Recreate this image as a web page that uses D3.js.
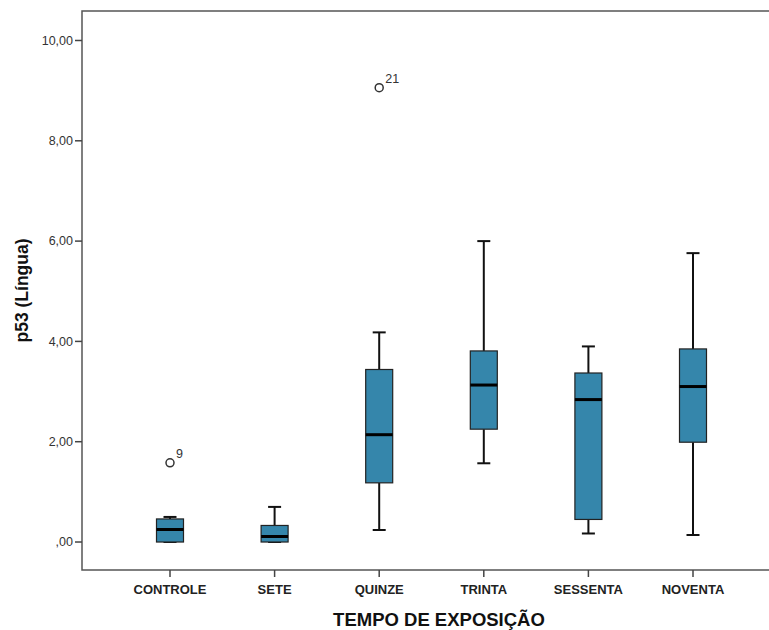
<!DOCTYPE html>
<html>
<head>
<meta charset="utf-8">
<script src="https://cdn.jsdelivr.net/npm/d3@7"></script>
<style>
  body { margin: 0; background: #fff; }
  text { font-family: "Liberation Sans", Arial, sans-serif; }
</style>
</head>
<body>
<script>
// box plot data
const categories = ["CONTROLE", "SETE", "QUINZE", "TRINTA", "SESSENTA", "NOVENTA"];
const whiskerLow  = [0.00, 0.00, 0.24, 1.57, 0.17, 0.14];
const q1          = [0.00, 0.00, 1.18, 2.25, 0.45, 1.99];
const medians     = [0.25, 0.11, 2.14, 3.13, 2.84, 3.10];
const q3          = [0.46, 0.33, 3.44, 3.81, 3.37, 3.85];
const whiskerHigh = [0.50, 0.70, 4.18, 6.00, 3.90, 5.76];
const outlierCat   = ["CONTROLE", "QUINZE"];
const outlierVal   = [1.58, 9.06];
const outlierLabel = ["9", "21"];
const yTicks = [0, 2, 4, 6, 8, 10];

const W = 769, H = 630;
const plotLeft = 82, plotTop = 11, plotBottom = 570, plotRight = 769;

const svg = d3.select("body").append("svg")
    .attr("width", W)
    .attr("height", H);

const x = d3.scalePoint()
    .domain(categories)
    .range([170, 693]);

const y = d3.scaleLinear()
    .domain([-0.558, 10.588])
    .range([plotBottom, plotTop]);

const fmt = v => v === 0 ? ",00" : d3.format(".2f")(v).replace(".", ",");

// frame
svg.append("path")
    .attr("d", `M${plotRight},${plotTop}H${plotLeft}V${plotBottom}H${plotRight}`)
    .attr("fill", "none")
    .attr("stroke", "#555")
    .attr("stroke-width", 1.5);

// y axis ticks
const yg = svg.append("g").attr("transform", `translate(${plotLeft},0)`);
yg.selectAll("line").data(yTicks).enter().append("line")
    .attr("x1", -7).attr("x2", 0)
    .attr("y1", d => y(d)).attr("y2", d => y(d))
    .attr("stroke", "#444").attr("stroke-width", 1.5);
yg.selectAll("text").data(yTicks).enter().append("text")
    .attr("x", -9)
    .attr("y", d => y(d))
    .attr("dy", "0.35em")
    .attr("text-anchor", "end")
    .attr("font-size", 12.5)
    .attr("fill", "#333")
    .text(fmt);

// x axis ticks
const xg = svg.append("g").attr("transform", `translate(0,${plotBottom})`);
xg.selectAll("line").data(categories).enter().append("line")
    .attr("x1", d => x(d)).attr("x2", d => x(d))
    .attr("y1", 0).attr("y2", 7)
    .attr("stroke", "#444").attr("stroke-width", 1.5);
xg.selectAll("text").data(categories).enter().append("text")
    .attr("x", d => x(d))
    .attr("y", 24)
    .attr("text-anchor", "middle")
    .attr("font-size", 13)
    .attr("font-weight", "bold")
    .attr("fill", "#222")
    .text(d => d);

// axis titles
svg.append("text")
    .attr("x", 439).attr("y", 626)
    .attr("text-anchor", "middle")
    .attr("font-size", 18.5)
    .attr("font-weight", "bold")
    .attr("fill", "#111")
    .text("TEMPO DE EXPOSIÇÃO");

svg.append("text")
    .attr("transform", `translate(28,${(plotTop + plotBottom) / 2}) rotate(-90)`)
    .attr("text-anchor", "middle")
    .attr("font-size", 17.5)
    .attr("font-weight", "bold")
    .attr("fill", "#111")
    .text("p53 (Língua)");

// boxes
const boxW = 27, capW = 13;
const boxes = svg.append("g").selectAll("g")
    .data(categories)
    .enter().append("g");

boxes.append("line")
    .attr("x1", d => x(d)).attr("x2", d => x(d))
    .attr("y1", (d, i) => y(whiskerHigh[i])).attr("y2", (d, i) => y(q3[i]))
    .attr("stroke", "#111").attr("stroke-width", 2);
boxes.append("line")
    .attr("x1", d => x(d)).attr("x2", d => x(d))
    .attr("y1", (d, i) => y(q1[i])).attr("y2", (d, i) => y(whiskerLow[i]))
    .attr("stroke", "#111").attr("stroke-width", 2);
boxes.append("line")
    .attr("x1", d => x(d) - capW / 2).attr("x2", d => x(d) + capW / 2)
    .attr("y1", (d, i) => y(whiskerHigh[i])).attr("y2", (d, i) => y(whiskerHigh[i]))
    .attr("stroke", "#111").attr("stroke-width", 2);
boxes.append("line")
    .attr("x1", d => x(d) - capW / 2).attr("x2", d => x(d) + capW / 2)
    .attr("y1", (d, i) => y(whiskerLow[i])).attr("y2", (d, i) => y(whiskerLow[i]))
    .attr("stroke", "#111").attr("stroke-width", 2);

boxes.append("rect")
    .attr("x", d => x(d) - boxW / 2)
    .attr("width", boxW)
    .attr("y", (d, i) => y(q3[i]))
    .attr("height", (d, i) => y(q1[i]) - y(q3[i]))
    .attr("fill", "#3586ab")
    .attr("stroke", "#222")
    .attr("stroke-width", 1.2);

boxes.append("line")
    .attr("x1", d => x(d) - boxW / 2).attr("x2", d => x(d) + boxW / 2)
    .attr("y1", (d, i) => y(medians[i])).attr("y2", (d, i) => y(medians[i]))
    .attr("stroke", "#000").attr("stroke-width", 3);

// outliers
const outl = svg.append("g").selectAll("g")
    .data(outlierVal)
    .enter().append("g");
outl.append("circle")
    .attr("cx", (d, i) => x(outlierCat[i]))
    .attr("cy", d => y(d))
    .attr("r", 4)
    .attr("fill", "none")
    .attr("stroke", "#333")
    .attr("stroke-width", 1.5);
outl.append("text")
    .attr("x", (d, i) => x(outlierCat[i]) + 6)
    .attr("y", d => y(d) - 5)
    .attr("font-size", 12.5)
    .attr("fill", "#333")
    .text((d, i) => outlierLabel[i]);
</script>
</body>
</html>
